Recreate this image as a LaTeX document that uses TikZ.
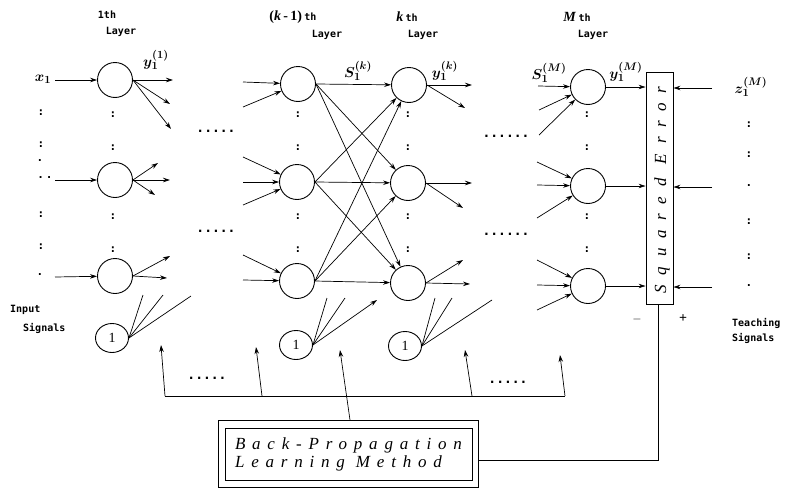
\documentclass[tikz,border=0pt]{standalone}
\usepackage{fontspec}
\setmainfont{Liberation Serif}
\newfontfamily\labfont{DejaVu Sans Mono}
\newfontfamily\spacedit{Liberation Serif}[LetterSpace=40]
\newfontfamily\spacedse{Liberation Serif}[LetterSpace=58]
\usetikzlibrary{arrows.meta,shapes.geometric}
\begin{document}
\begin{tikzpicture}[x=1pt,y=-1pt,
  neuron/.style={circle,draw,line width=0.9pt,minimum size=35pt,inner sep=0pt},
  bias/.style={ellipse,draw,line width=0.9pt,minimum width=33pt,minimum height=29pt,inner sep=0pt,font=\fontsize{14}{14}\selectfont},
  arr/.style={-{Stealth[length=7pt,width=4.5pt]},line width=0.7pt},
  ln/.style={line width=0.7pt},
  lab/.style={font=\labfont\bfseries\fontsize{10}{10}\selectfont,inner sep=0pt},
  dotrow/.style={font=\labfont\bfseries\fontsize{13}{13}\selectfont,inner sep=0pt},
  colon/.style={font=\labfont\bfseries\fontsize{11}{11}\selectfont,inner sep=0pt},
  ml/.style={font=\fontsize{15}{15}\selectfont\boldmath,inner sep=0pt},
  ttl/.style={font=\bfseries\fontsize{14}{14}\selectfont,inner sep=0pt}
]
\useasboundingbox (0,0) rectangle (785,490);

% neurons
\node[neuron] (n1a) at (115,80) {};
\node[neuron] (n1b) at (115,180) {};
\node[neuron] (n1c) at (115,276) {};
\node[bias] (b1) at (112,338) {1};
\node[neuron] (pa) at (298,84) {};
\node[neuron] (pb) at (297,182) {};
\node[neuron] (pc) at (297,281) {};
\node[bias] (bp) at (296,345) {1};
\node[neuron] (ka) at (409,85) {};
\node[neuron] (kb) at (408,183) {};
\node[neuron] (kc) at (408,283) {};
\node[bias] (bk) at (405,346) {1};
\node[neuron] (ma) at (588,87) {};
\node[neuron] (mb) at (588,186) {};
\node[neuron] (mc) at (588,286) {};

% squared error box
\node[draw,line width=0.9pt,minimum width=27pt,minimum height=232pt,inner sep=0pt] (se) at (659.5,188) {};
\node[rotate=90,inner sep=0pt,font=\spacedse\itshape\fontsize{17}{17}\selectfont] (setext) at (662,190) {Squared Error};

% back-propagation box
\node[draw,line width=0.9pt,minimum width=260pt,minimum height=67pt,inner sep=0pt] (bpo) at (348,453.5) {};
\node[draw,line width=0.9pt,minimum width=247pt,minimum height=52pt,inner sep=0pt,align=left,
      font=\spacedit\itshape\fontsize{17}{18}\selectfont] (bpi) at (348.5,454) {Back-Propagation\\Learning Method};

% coordinates for free ends
\foreach \c/\x/\y in {xa/55/80, xb/55/180, xc/55/277,
  o1a1/173/80, o1a2/170/104, o1a3/171/129,
  o1b1/158/163, o1b2/170/180, o1b3/155/195,
  o1c1/170/256, o1c2/167/278,
  b1e1/143/295, b1e2/163/295, b1e3/191/296,
  ipa1/243/82, ipa2/243/107, ipb1/243/157, ipb2/243/182, ipb3/243/205, ipc1/243/255, ipc2/243/280,
  bpe1/327/298, bpe2/345/298, bpe3/377/300,
  oka1/472/85, oka2/465/108, okb1/472/183, okb2/463/208, okc1/463/260, okc2/470/284,
  bke1/435/298, bke2/452/298, bke3/492/300,
  ima1/538/86, ima2/539/110, ima3/539/135,
  imb1/537/162, imb2/537/185, imb3/537/218,
  imc1/537/260, imc2/537/285, imc3/537/310,
  zr1/712/88, zr2/712/187, zr3/712/287,
  fb1/165/396, ft1/161/345, fb2/262/396, ft2/256/347,
  fb3/350/420, ft3/340/350, fb4/472/396, ft4/465/350, fb5/565/396, ft5/560/355,
  cr/658/460}
  \coordinate (\c) at (\x,\y);

% layer 1
\draw[arr] (xa) -- (n1a);
\draw[arr] (xb) -- (n1b);
\draw[arr] (xc) -- (n1c);
\foreach \e in {o1a1,o1a2,o1a3} \draw[arr] (n1a.east) -- (\e);
\foreach \e in {o1b1,o1b2,o1b3} \draw[arr] (n1b.east) -- (\e);
\foreach \e in {o1c1,o1c2} \draw[arr] (n1c.east) -- (\e);
\foreach \e in {b1e1,b1e2,b1e3} \draw[ln] (b1.east) -- (\e);

% layer k-1
\foreach \s in {ipa1,ipa2} \draw[arr] (\s) -- (pa);
\foreach \s in {ipb1,ipb2,ipb3} \draw[arr] (\s) -- (pb);
\foreach \s in {ipc1,ipc2} \draw[arr] (\s) -- (pc);
\foreach \s in {pa,pb,pc} \foreach \t in {ka,kb,kc} \draw[arr] (\s.east) -- (\t);
\draw[ln] (bp.east) -- (bpe1);
\draw[ln] (bp.east) -- (bpe2);
\draw[arr] (bp.east) -- (bpe3);

% layer k
\foreach \e in {oka1,oka2} \draw[arr] (ka.east) -- (\e);
\foreach \e in {okb1,okb2} \draw[arr] (kb.east) -- (\e);
\foreach \e in {okc1,okc2} \draw[arr] (kc.east) -- (\e);
\foreach \e in {bke1,bke2,bke3} \draw[ln] (bk.east) -- (\e);

% layer M
\foreach \s in {ima1,ima2,ima3} \draw[arr] (\s) -- (ma);
\foreach \s in {imb1,imb2,imb3} \draw[arr] (\s) -- (mb);
\foreach \s in {imc1,imc2,imc3} \draw[arr] (\s) -- (mc);
\foreach \n in {ma,mb,mc} \draw[arr] (\n.east) -- (\n.east -| se.west);
\foreach \z in {zr1,zr2,zr3} \draw[arr] (\z) -- (\z -| se.east);

% error to learning box
\draw[ln] (se.south -| cr) -- (cr) -- (cr -| bpo.east);

% feedback
\draw[ln] (fb1) -- (fb5);
\draw[arr] (fb1) -- (ft1);
\draw[arr] (fb2) -- (ft2);
\draw[arr] (fb3) -- (ft3);
\draw[arr] (fb4) -- (ft4);
\draw[arr] (fb5) -- (ft5);

% titles
\node[lab] (t1a) at (107,15) {1th};
\node[lab] (t1b) at (121,32) {Layer};
\node[ttl] (t2a) at (293,17) {(\textit{k}\,-\,1)\,{\labfont\fontsize{10}{10}\selectfont th}};
\node[lab] (t2b) at (327,35) {Layer};
\node[ttl] (t3a) at (407,17) {\textit{k}\,{\labfont\fontsize{10}{10}\selectfont th}};
\node[lab] (t3b) at (423,35) {Layer};
\node[ttl] (t4a) at (577,17) {\textit{M}\,{\labfont\fontsize{10}{10}\selectfont th}};
\node[lab] (t4b) at (593,35) {Layer};

% math labels
\node[ml] (lx) at (43,79) {$x_{1}$};
\node[ml] (ly1) at (156,60) {$y_{1}^{(1)}$};
\node[ml] (lsk) at (358,71) {$S_{1}^{(k)}$};
\node[ml] (lyk) at (445,71) {$y_{1}^{(k)}$};
\node[ml] (lsm) at (549,73) {$S_{1}^{(M)}$};
\node[ml] (lym) at (626,72) {$y_{1}^{(M)}$};
\node[ml] (lz) at (751,87) {$z_{1}^{(M)}$};

% side labels
\node[lab,anchor=west] (in1) at (10,310) {Input};
\node[lab,anchor=west] (in2) at (23,328) {Signals};
\node[lab,anchor=west] (te1) at (732,323) {Teaching};
\node[lab,anchor=west] (te2) at (732,338) {Signals};
\node[inner sep=0pt,font=\fontsize{12}{12}\selectfont] (minus) at (637,319) {$-$};
\node[inner sep=0pt,font=\bfseries\fontsize{14}{14}\selectfont] (plus) at (683,319) {+};

% dot rows
\node[dotrow] (d1) at (216,131) {.....};
\node[dotrow] (d2) at (216,231) {.....};
\node[dotrow] (d3) at (506,136) {......};
\node[dotrow] (d4) at (506,234) {......};
\node[dotrow] (d5) at (207,378) {.....};
\node[dotrow] (d6) at (508,382) {.....};

% vertical dots (colons)
\foreach \x in {113,298,408,587} \foreach \y in {115,148,217,250} \node[colon] at (\x,\y) {:};
\foreach \y in {113,145,215,247} \node[colon] at (41,\y) {:};
\node[colon] (l1) at (40,161) {.};
\node[colon] (l2) at (45,178) {.\,.};
\node[colon] (l3) at (40,275) {.};
\foreach \y in {125,155,222,257} \node[colon] at (749,\y) {:};
\node[colon] (r1) at (749,186) {.};
\node[colon] (r2) at (749,286) {.};
\end{tikzpicture}
\end{document}
